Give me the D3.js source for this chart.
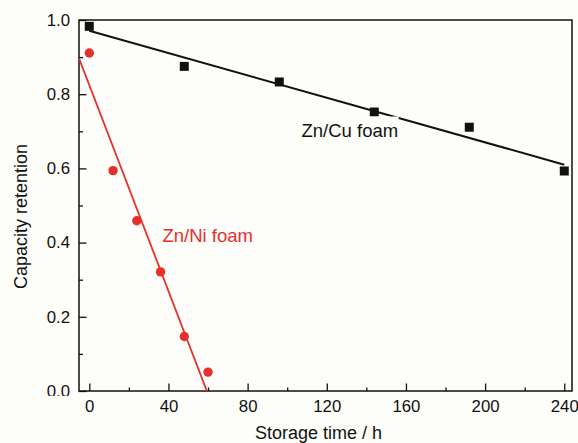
<!DOCTYPE html>
<html>
<head>
<meta charset="utf-8">
<script src="https://cdn.jsdelivr.net/npm/d3@7"></script>
<style>
  html, body { margin: 0; padding: 0; background: #fdfdfa; }
  svg { display: block; font-family: "Liberation Sans", Arial, sans-serif; }
</style>
</head>
<body>
<div id="chart"></div>
<script>
// data
const cuTime = [0, 48, 96, 144, 192, 240]
const cuRetention = [0.983, 0.875, 0.833, 0.752, 0.711, 0.593]
const niTime = [0, 12, 24, 36, 48, 60]
const niRetention = [0.911, 0.594, 0.459, 0.321, 0.147, 0.051]

// fitted lines, endpoints as drawn
const cuFitTime = [0, 240]
const cuFitRetention = [0.971, 0.610]
const niFitTime = [-5.2, 59.4]
const niFitRetention = [0.897, 0]

const xTicks = [0, 40, 80, 120, 160, 200, 240]
const xMinor = [20, 60, 100, 140, 180, 220]
const yTicks = [0, 0.2, 0.4, 0.6, 0.8, 1.0]
const yMinor = [0.1, 0.3, 0.5, 0.7, 0.9]

const w = 578
const h = 443
const padLeft = 79, padRight = 572, padTop = 20, padBottom = 391
const red = "#e5302c"

const xScale = d3.scaleLinear().domain([-5.2, 243.9]).range([padLeft, padRight])
const yScale = d3.scaleLinear().domain([0, 1.0]).range([padBottom, padTop])

const svg = d3.select("#chart").append("svg")
  .attr("width", w)
  .attr("height", h)

const defs = svg.append("defs")
defs.append("clipPath").attr("id", "plot-clip")
  .append("rect")
  .attr("x", padLeft).attr("y", padTop)
  .attr("width", padRight - padLeft).attr("height", padBottom - padTop)

// the 0.0 label is cut off at the bottom in the original
defs.append("clipPath").attr("id", "ylab-clip")
  .append("rect")
  .attr("x", -padLeft).attr("y", -10)
  .attr("width", padLeft + 10).attr("height", 396 + 10)

// x axis, ticks pointing inward
svg.append("g")
  .attr("class", "axis")
  .attr("transform", "translate(0," + padBottom + ")")
  .call(d3.axisBottom(xScale).tickValues(xTicks).tickSize(-7.5).tickPadding(9).tickFormat(d3.format("d")))
svg.append("g")
  .attr("class", "axis")
  .attr("transform", "translate(0," + padBottom + ")")
  .call(d3.axisBottom(xScale).tickValues(xMinor).tickSize(-3.5).tickFormat(""))

// y axis
svg.append("g")
  .attr("class", "axis")
  .attr("transform", "translate(" + padLeft + ",0)")
  .attr("clip-path", "url(#ylab-clip)")
  .call(d3.axisLeft(yScale).tickValues(yTicks).tickSize(-7.5).tickPadding(9).tickFormat(d3.format(".1f")))
svg.append("g")
  .attr("class", "axis")
  .attr("transform", "translate(" + padLeft + ",0)")
  .call(d3.axisLeft(yScale).tickValues(yMinor).tickSize(-4).tickFormat(""))

svg.selectAll(".domain").remove()
svg.selectAll(".tick line").attr("stroke", "#111").attr("stroke-width", 1.3)
svg.selectAll(".tick text").attr("font-size", 16.8).attr("fill", "#111")
  .attr("font-family", "Liberation Sans, Arial, sans-serif")

// frame
svg.append("rect")
  .attr("x", padLeft).attr("y", padTop)
  .attr("width", padRight - padLeft).attr("height", padBottom - padTop)
  .attr("fill", "none")
  .attr("stroke", "#111")
  .attr("stroke-width", 1.5)

// axis titles
svg.append("text")
  .attr("x", (padLeft + padRight) / 2 - 7)
  .attr("y", 439)
  .attr("text-anchor", "middle")
  .attr("font-size", 18)
  .attr("fill", "#111")
  .text("Storage time / h")

svg.append("text")
  .attr("transform", "translate(26.5,216.5) rotate(-90)")
  .attr("text-anchor", "middle")
  .attr("font-size", 18)
  .attr("fill", "#111")
  .text("Capacity retention")

const line = d3.line().x(d => xScale(d[0])).y(d => yScale(d[1]))
const plot = svg.append("g").attr("clip-path", "url(#plot-clip)")

plot.append("path")
  .datum(cuFitTime.map((t, i) => [t, cuFitRetention[i]]))
  .attr("d", line)
  .attr("fill", "none")
  .attr("stroke", "#111")
  .attr("stroke-width", 2)

plot.append("path")
  .datum(niFitTime.map((t, i) => [t, niFitRetention[i]]))
  .attr("d", line)
  .attr("fill", "none")
  .attr("stroke", red)
  .attr("stroke-width", 1.8)

// markers
svg.selectAll(".cu")
  .data(cuTime)
  .enter()
  .append("rect")
  .attr("class", "cu")
  .attr("x", d => xScale(d) - 4.5)
  .attr("y", (d, i) => yScale(cuRetention[i]) - 4.5)
  .attr("width", 9)
  .attr("height", 9)
  .attr("fill", "#111")

svg.selectAll(".ni")
  .data(niTime)
  .enter()
  .append("circle")
  .attr("class", "ni")
  .attr("cx", d => xScale(d))
  .attr("cy", (d, i) => yScale(niRetention[i]))
  .attr("r", 4.7)
  .attr("fill", red)

// labels (Cu label sits on a small background box that nicks the line)
const cuLabel = svg.append("g")
const cuText = cuLabel.append("text")
  .attr("x", 301.5)
  .attr("y", 137.3)
  .attr("font-size", 18.5)
  .attr("fill", "#111")
  .text("Zn/Cu foam")
const bb = cuText.node().getBBox()
cuLabel.insert("rect", "text")
  .attr("x", bb.x - 2)
  .attr("y", 116.5)
  .attr("width", bb.width + 2.5)
  .attr("height", bb.y + bb.height - 116.5)
  .attr("fill", "#fdfdfa")

svg.append("text")
  .attr("x", 162.5)
  .attr("y", 242.3)
  .attr("font-size", 18.5)
  .attr("fill", red)
  .text("Zn/Ni foam")
</script>
</body>
</html>
